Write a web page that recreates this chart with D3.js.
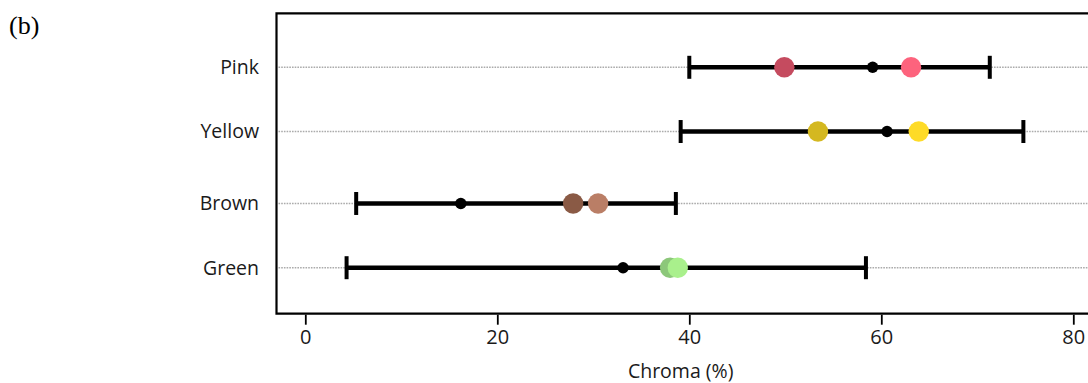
<!DOCTYPE html>
<html>
<head>
<meta charset="utf-8">
<script src="https://cdn.jsdelivr.net/npm/d3@7"></script>
<style>
  body { margin: 0; background: white; }
  svg { display: block; }
</style>
</head>
<body>
<div id="chart"></div>
<script>
// colour groups, top to bottom
const groups = ['Pink', 'Yellow', 'Brown', 'Green'];
// row position on the y scale (Brown/Green sit a bit lower)
const rowPos = [4.12, 3.12, 2, 1];
// error bar range (chroma %)
const lowVals = [40.0, 39.1, 5.3, 4.3];
const highVals = [71.3, 74.8, 38.6, 58.4];
// black mean dot
const meanVals = [59.1, 60.6, 16.2, 33.1];
// two coloured samples per group
const darkVals = [49.9, 53.4, 27.9, 38.0];
const lightVals = [63.1, 63.9, 30.5, 38.8];
const darkColors = ['#c54b5f', '#d4b820', '#8a5a45', '#8cc77a'];
const lightColors = ['#fd637d', '#fedb27', '#ba7e66', '#a9f08c'];
const xTicks = [0, 20, 40, 60, 80];

const width = 1088, height = 383;
const boxTop = 13.3, boxBottom = 313.7;
const labelFont = '"Open Sans", sans-serif';

const svg = d3.select('#chart').append('svg')
    .attr('width', width)
    .attr('height', height);

const x = d3.scaleLinear().domain([0, 80]).range([305.3, 1073.3]);
const y = d3.scaleLinear().domain([1, 4.12]).range([267.7, 67.3]);

const boxLeft = x(-3);
const boxRight = x(86);

// panel label
svg.append('text')
    .attr('x', 9)
    .attr('y', 34)
    .attr('font-family', '"Liberation Serif", serif')
    .attr('font-size', '26px')
    .attr('fill', '#000')
    .text('(b)');

// dotted row guides
svg.append('g')
    .selectAll('line')
    .data(groups)
    .enter().append('line')
    .attr('x1', boxLeft + 2)
    .attr('x2', boxRight)
    .attr('y1', (d, i) => y(rowPos[i]))
    .attr('y2', (d, i) => y(rowPos[i]))
    .attr('stroke', '#ababab')
    .attr('stroke-width', 1.5)
    .attr('stroke-dasharray', '1.6,1.1');

// row labels
svg.append('g')
    .selectAll('text')
    .data(groups)
    .enter().append('text')
    .attr('x', 259)
    .attr('y', (d, i) => y(rowPos[i]))
    .attr('dy', '0.35em')
    .attr('text-anchor', 'end')
    .attr('font-family', labelFont)
    .attr('font-size', '19.5px')
    .attr('fill', '#1a1a1a')
    .text(d => d);

const rows = svg.append('g')
    .selectAll('g')
    .data(groups)
    .enter().append('g')
    .attr('transform', (d, i) => `translate(0,${y(rowPos[i])})`);

// error bar
rows.append('line')
    .attr('x1', (d, i) => x(lowVals[i]))
    .attr('x2', (d, i) => x(highVals[i]))
    .attr('stroke', '#000')
    .attr('stroke-width', 4.5);

rows.append('line')
    .attr('x1', (d, i) => x(lowVals[i]))
    .attr('x2', (d, i) => x(lowVals[i]))
    .attr('y1', -11.5).attr('y2', 11.5)
    .attr('stroke', '#000')
    .attr('stroke-width', 4);

rows.append('line')
    .attr('x1', (d, i) => x(highVals[i]))
    .attr('x2', (d, i) => x(highVals[i]))
    .attr('y1', -11.5).attr('y2', 11.5)
    .attr('stroke', '#000')
    .attr('stroke-width', 4);

rows.append('circle')
    .attr('cx', (d, i) => x(meanVals[i]))
    .attr('r', 5.7)
    .attr('fill', '#000');

rows.append('circle')
    .attr('cx', (d, i) => x(darkVals[i]))
    .attr('r', 10.2)
    .attr('fill', (d, i) => darkColors[i]);

rows.append('circle')
    .attr('cx', (d, i) => x(lightVals[i]))
    .attr('r', 10.2)
    .attr('fill', (d, i) => lightColors[i]);

// plot box (runs off the right edge)
svg.append('path')
    .attr('d', `M${boxRight},${boxTop}H${boxLeft}V${boxBottom}H${boxRight}`)
    .attr('fill', 'none')
    .attr('stroke', '#000')
    .attr('stroke-width', 2.2);

// x axis
const xAxis = svg.append('g')
    .attr('transform', `translate(0,${boxBottom + 1})`)
    .call(d3.axisBottom(x).tickValues(xTicks).tickSize(10).tickSizeOuter(0).tickPadding(5));

xAxis.select('.domain').remove();
xAxis.selectAll('.tick line')
    .attr('stroke', '#000')
    .attr('stroke-width', 1.8);
xAxis.selectAll('.tick text')
    .attr('font-family', labelFont)
    .attr('font-size', '20px')
    .attr('fill', '#1a1a1a');

svg.append('text')
    .attr('x', x(39.1))
    .attr('y', 378)
    .attr('text-anchor', 'middle')
    .attr('font-family', labelFont)
    .attr('font-size', '19.5px')
    .attr('fill', '#1a1a1a')
    .text('Chroma (%)');
</script>
</body>
</html>
